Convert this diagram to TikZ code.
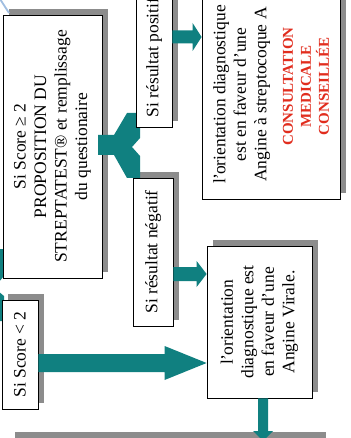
\documentclass[tikz,border=0pt]{standalone}
\usepackage{fontspec}
\setmainfont{Liberation Serif}
\usetikzlibrary{calc}
\definecolor{tealc}{RGB}{16,128,128}
\definecolor{shadowc}{RGB}{140,140,140}
\definecolor{redc}{RGB}{225,45,30}
\definecolor{bluec}{RGB}{160,190,225}
\pgfdeclarelayer{shadowlayer}
\pgfsetlayers{shadowlayer,main}
% start, tip, shaft half width, head half width, head length
\newcommand{\tealharrow}[5]{%
  \fill[tealc] ($(#1)+(0,-#3)$) -- ($(#2)+(-#5,-#3)$) -- ($(#2)+(-#5,-#4)$) -- (#2)
    -- ($(#2)+(-#5,#4)$) -- ($(#2)+(-#5,#3)$) -- ($(#1)+(0,#3)$) -- cycle;}
\newcommand{\boxshadow}[1]{%
  \begin{pgfonlayer}{shadowlayer}
  \fill[shadowc] ([shift={(6,-6)}]#1.south west) rectangle ([shift={(6,-6)}]#1.north east);
  \end{pgfonlayer}}
\newcommand{\redl}[1]{\hspace*{16pt}{\color{redc}\bfseries\fontsize{15}{18}\selectfont #1}}
\newcommand{\lorient}{l\kern-0.6pt'\kern-1.2pt{}orientation}
\tikzset{box/.style={draw=black, line width=0.8pt, fill=white, inner sep=0pt,
  align=center, rotate=90, font=\fontsize{17.5}{20.5}\selectfont}}
\begin{document}
\begin{tikzpicture}[x=1pt,y=-1pt]
\useasboundingbox (0,0) rectangle (350,438);
\clip (0,0) rectangle (350,438);
% fragments at the edges
\draw[bluec, line width=1.8pt] (0,-1) -- (9,13);
\fill[tealc] (-2,249) -- (4,249) -- (4,276) -- (-2,283) -- cycle;
\fill[tealc] (-2,291) -- (4,296) -- (4,321) -- (-2,321) -- cycle;
% boxes
\node[box, minimum width=263pt, minimum height=99pt] (B1) at (52.5,146.5)
  {Si Score ≥ 2\\ PROPOSITION DU\\ STREPTATEST® et remplissage\\ du questionaire};
\boxshadow{B1}
% fork
\fill[tealc] (98,135) -- (114,135) -- (127,113) -- (140,113) -- (140,138) -- (132,147)
  -- (140,156) -- (140,178) -- (127,178) -- (114,155) -- (98,155) -- cycle;
\node[box, minimum width=109pt, minimum height=36pt] (B2) at (20,354.5) {Si Score < 2};
\boxshadow{B2}
\node[box, minimum width=139pt, minimum height=36pt] (B3) at (154,57.5) {Si résultat positif};
\boxshadow{B3}
\node[box, minimum width=148pt, minimum height=40pt] (B4) at (153,252) {Si résultat négatif};
\boxshadow{B4}
\node[box, minimum width=209pt, minimum height=138pt] (B5) at (271,94.5)
  {\lorient{} diagnostique\\ est en faveur d'une\\ Angine à streptocoque A\\[6pt]
   \redl{CONSULTATION}\\[-2.5pt] \redl{MEDICALE}\\[-2.5pt] \redl{CONSEILLÉE}};
\boxshadow{B5}
\node[box, minimum width=152pt, minimum height=105pt] (B6) at (259.5,322)
  {\lorient\\ diagnostique est\\ en faveur d'une\\ Angine Virale.};
\boxshadow{B6}
% bottom bar
\fill[shadowc] (15,432) rectangle (326,440);
% arrows
\coordinate (a1s) at (B3.south |- 0,37);
\coordinate (a1t) at (B5.north |- 0,37);
\tealharrow{a1s}{a1t}{6.5}{14}{9}
\coordinate (a2s) at (B4.south |- 0,274);
\coordinate (a2t) at (B6.north |- 0,274);
\tealharrow{a2s}{a2t}{7}{13}{10}
\coordinate (a3s) at (B2.south |- 0,363);
\coordinate (a3t) at (B6.north |- 0,363);
\tealharrow{a3s}{a3t}{9}{17}{42}
\coordinate (vs) at (B6.west -| 263,0);
\coordinate (vt) at (263,441);
\fill[tealc] ($(vs)+(-5,0)$) -- ($(vt)+(-5,-10)$) -- ($(vt)+(-10,-10)$) -- (vt)
  -- ($(vt)+(10,-10)$) -- ($(vt)+(5,-10)$) -- ($(vs)+(5,0)$) -- cycle;
\end{tikzpicture}
\end{document}
